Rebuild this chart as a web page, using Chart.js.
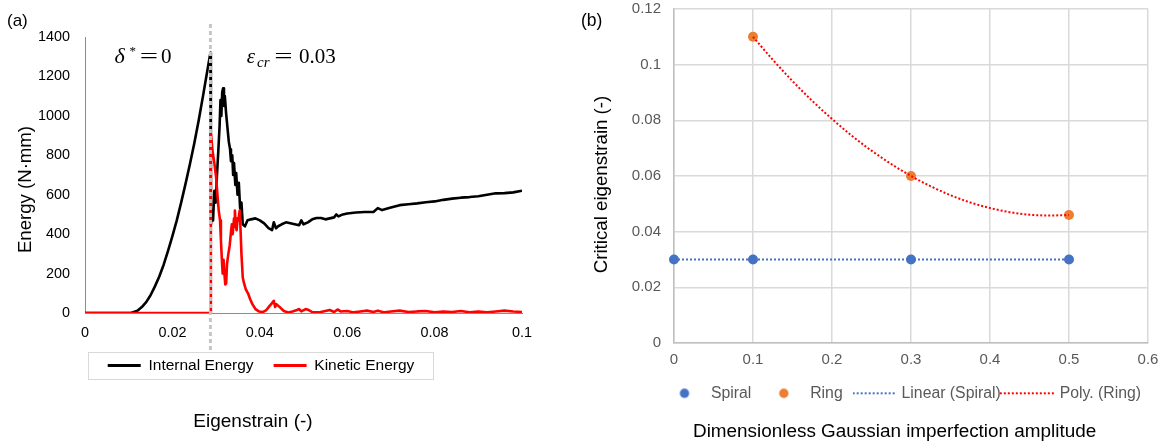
<!DOCTYPE html>
<html><head><meta charset="utf-8">
<script src="https://cdn.jsdelivr.net/npm/chart.js@4.4.1/dist/chart.umd.min.js"></script>
<style>
html,body{margin:0;padding:0;background:#fff;width:1161px;height:443px;overflow:hidden}
#wa{position:absolute;left:0;top:0;width:581px;height:443px}
#wb{position:absolute;left:567px;top:0;width:594px;height:443px}
</style></head><body>
<div id="wa"><canvas id="ca"></canvas></div>
<div id="wb"><canvas id="cb"></canvas></div>
<script>
// ---------- Panel (a) data ----------
const internalStrain = [0,0.0105,0.012,0.013,0.014,0.015,0.016,0.017,0.018,0.019,0.020,0.021,0.022,0.023,0.024,0.025,0.026,0.027,0.028,0.0287,
  0.0288,0.0291,0.0293,0.0296,0.0299,0.0302,0.0305,0.0308,0.0310,0.0312,0.0314,0.0316,0.0318,0.0320,0.0323,0.0326,0.0329,0.0332,0.0334,0.0337,0.0339,0.0341,0.0344,0.0346,0.0349,0.0352,0.0355,0.0358,0.0361,0.0366,0.0372,
  0.0380,0.0390,0.0400,0.0410,0.0420,0.0428,0.0432,0.0437,0.0442,0.0450,0.0460,0.0470,0.0480,0.0490,0.0495,0.0500,0.0510,0.0520,0.0530,0.0540,0.0550,0.0560,0.0570,0.0575,0.0580,0.0590,0.0600,0.0620,0.0640,0.0660,0.0670,0.0680,0.0700,0.0720,0.0740,0.0760,0.0780,0.0800,0.0820,0.0840,0.0860,0.0880,0.0900,0.0920,0.0940,0.0960,0.0980,0.1000];
const internalEnergy = [0,0,12,30,55,90,135,185,245,315,390,470,560,655,755,860,975,1100,1230,1320,
  450,520,470,620,560,700,820,950,1080,1000,1120,1140,1050,1100,1010,940,870,830,770,800,700,760,650,710,600,660,530,560,450,440,470,
  475,480,470,455,430,420,460,430,440,450,460,455,450,445,470,450,460,475,482,482,475,480,485,500,490,500,505,510,512,512,532,522,535,547,552,556,562,566,574,580,585,588,592,600,607,608,612,620];
const kineticStrain = [0,0.0287,0.0288,0.0292,0.0296,0.0300,0.0303,0.0306,0.0309,0.0311,0.0313,0.0315,0.0317,0.0319,0.0321,0.0323,0.0325,0.0328,0.0331,0.0334,0.0336,0.0338,0.0341,0.0343,0.0345,0.0347,0.0349,0.0351,0.0354,0.0356,0.0358,0.0361,0.0364,0.0368,0.0373,0.0378,0.0383,0.0390,0.0398,0.0407,0.0415,0.0422,0.0428,0.0432,0.0435,0.0438,0.0443,0.0448,0.0455,0.0465,0.0475,0.0485,0.0490,0.0495,0.0505,0.0512,0.0520,0.0535,0.0550,0.0560,0.0570,0.0578,0.0585,0.0600,0.0615,0.0630,0.0645,0.0660,0.0670,0.0685,0.0700,0.0720,0.0740,0.0760,0.0780,0.0800,0.0820,0.0840,0.0860,0.0880,0.0900,0.0920,0.0940,0.0960,0.0980,0.1000];
const kineticEnergy = [0,0,910,820,760,690,600,520,470,370,280,200,270,200,145,150,250,300,340,410,450,400,480,520,440,420,480,470,520,420,300,180,150,120,100,70,45,20,8,5,15,35,50,62,30,45,35,25,10,3,8,15,20,8,20,15,5,3,10,15,5,18,8,10,3,8,12,5,12,3,8,12,5,8,10,3,8,5,10,4,8,3,8,12,8,5];
const bucklingStrain = 0.0287;
const aXTicks = [0,0.02,0.04,0.06,0.08,0.1];
const aXTickLabels = ['0','0.02','0.04','0.06','0.08','0.1'];
const aYTicks = [0,200,400,600,800,1000,1200,1400];
const aYTickLabels = ['0','200','400','600','800','1000','1200','1400'];

// ---------- Panel (b) data ----------
const amplitudes = [0,0.1,0.3,0.5];
const spiralCritical = [0.03,0.03,0.03,0.03];
const ringAmplitudes = [0.1,0.3,0.5];
const ringCritical = [0.11,0.06,0.046];
const spiralTrendX = [0,0.5];
const spiralTrendY = [0.03,0.03];
const ringTrendX = [0.1,0.125,0.15,0.175,0.2,0.225,0.25,0.275,0.3,0.325,0.35,0.375,0.4,0.425,0.45,0.475,0.5];
const ringTrendY = [0.110,0.1018,0.0941,0.0870,0.0805,0.0745,0.0691,0.0643,0.0600,0.0563,0.0531,0.0505,0.0485,0.0470,0.0461,0.0458,0.0460];
const bXTicks = [0,0.1,0.2,0.3,0.4,0.5,0.6];
const bXTickLabels = ['0','0.1','0.2','0.3','0.4','0.5','0.6'];
const bYTicks = [0,0.02,0.04,0.06,0.08,0.1,0.12];
const bYTickLabels = ['0','0.02','0.04','0.06','0.08','0.1','0.12'];

const FONT = "'Liberation Sans', Arial, sans-serif";
const SERIF = "'Liberation Serif', 'Times New Roman', serif";
const pts = (xs, ys) => xs.map((x, i) => ({x, y: ys[i]}));

function drawText(ctx, txt, x, y, font, color, align, base) {
  ctx.font = font; ctx.fillStyle = color; ctx.textAlign = align || 'left'; ctx.textBaseline = base || 'alphabetic';
  ctx.fillText(txt, x, y);
}
function drawVTitle(ctx, txt, cx, cy, font, color) {
  ctx.save(); ctx.translate(cx, cy); ctx.rotate(-Math.PI / 2);
  drawText(ctx, txt, 0, 0, font, color, 'center', 'middle'); ctx.restore();
}
function drawWideEq(ctx, cx, base) {
  ctx.save(); ctx.translate(cx, base); ctx.scale(1.55, 1);
  drawText(ctx, '=', 0, 0, '21px ' + SERIF, '#000', 'center'); ctx.restore();
}
// legend marker images (panel b)
function circleImg(color, r) {
  const c = document.createElement('canvas'); const s = Math.ceil(2 * r + 2);
  c.width = s; c.height = s; const g = c.getContext('2d');
  g.fillStyle = color; g.beginPath(); g.arc(s / 2, s / 2, r, 0, Math.PI * 2); g.fill(); return c;
}
function dottedImg(color, left, right, dash) {
  const half = Math.max(left, right); const c = document.createElement('canvas');
  c.width = Math.round(2 * half); c.height = 4; const g = c.getContext('2d');
  g.strokeStyle = color; g.lineWidth = 2; g.setLineDash(dash);
  g.beginPath(); g.moveTo(half - left, 2); g.lineTo(half + right, 2); g.stroke(); return c;
}

const panelA = {
  id: 'panelA',
  afterLayout(chart) { const t = chart.titleBlock; if (t) { t.left -= 8; t.right -= 8; } },
  afterDatasetsDraw(chart) {
    const {ctx, chartArea, scales: {x}} = chart;
    const px = x.getPixelForValue(bucklingStrain);
    const hb = chart.legend.legendHitBoxes;
    const boxTop = hb[0].top + hb[0].height / 2 - 13.5;
    ctx.save();
    ctx.strokeStyle = '#c6c6c6'; ctx.lineWidth = 3; ctx.setLineDash([4, 3]);
    ctx.beginPath(); ctx.moveTo(px, chartArea.top - 13); ctx.lineTo(px, boxTop); ctx.stroke();
    ctx.restore();
  },
  afterDraw(chart) {
    const {ctx, chartArea} = chart;
    const hb = chart.legend.legendHitBoxes;
    const l = Math.min(...hb.map(h => h.left)), r = Math.max(...hb.map(h => h.left + h.width));
    const cy = hb[0].top + hb[0].height / 2;
    ctx.save();
    ctx.strokeStyle = '#d9d9d9'; ctx.lineWidth = 1;
    ctx.strokeRect(Math.round(l - 20) + 0.5, Math.round(cy - 13.5) + 0.5, Math.round(r - l + 38), 27);
    drawVTitle(ctx, 'Energy (N·mm)', chartArea.left - 59, (chartArea.top + chartArea.bottom) / 2 + 14.5, '18.6px ' + FONT, '#000');
    drawText(ctx, '(a)', 7, 21, '17px ' + FONT, '#000', 'left', 'middle');
    const L = chartArea.left, B = chartArea.top + 25.5;
    drawText(ctx, 'δ', L + 29.5, B, 'italic 22px ' + SERIF, '#000');
    drawText(ctx, '*', L + 44.5, B - 8, '13px ' + SERIF, '#000');
    drawWideEq(ctx, L + 64, B);
    drawText(ctx, '0', L + 76, B, '21px ' + SERIF, '#000');
    drawText(ctx, 'ε', L + 161.7, B, 'italic 21px ' + SERIF, '#000');
    drawText(ctx, 'cr', L + 172, B + 4, 'italic 15px ' + SERIF, '#000');
    drawWideEq(ctx, L + 198.5, B);
    drawText(ctx, '0.03', L + 214, B, '21px ' + SERIF, '#000');
    ctx.restore();
  }
};

const panelB = {
  id: 'panelB',
  afterLayout(chart) {
    const t = chart.titleBlock; if (t) { t.left += 37.1; t.right += 37.1; }
    const lg = chart.legend; if (lg) { lg.left += 46; lg.right += 46; }
  },
  afterDraw(chart) {
    const {ctx, chartArea} = chart;
    ctx.save();
    drawVTitle(ctx, 'Critical eigenstrain (-)', chartArea.left - 72, (chartArea.top + chartArea.bottom) / 2 + 8.5, '18.7px ' + FONT, '#000');
    drawText(ctx, '(b)', 14, 21, '17.5px ' + FONT, '#000', 'left', 'middle');
    ctx.restore();
  }
};

new Chart(document.getElementById('ca'), {
  type: 'scatter',
  data: { datasets: [
    {label: 'Internal Energy', data: pts(internalStrain, internalEnergy), showLine: true, borderColor: '#000', backgroundColor: '#000', borderWidth: 2.6, pointRadius: 0, pointHoverRadius: 0, borderJoinStyle: 'round', order: 1},
    {label: 'Kinetic Energy', data: pts(kineticStrain, kineticEnergy), showLine: true, borderColor: '#ff0000', backgroundColor: '#ff0000', borderWidth: 2.6, pointRadius: 0, pointHoverRadius: 0, borderJoinStyle: 'round', order: 0}
  ]},
  options: {
    responsive: true, maintainAspectRatio: false, animation: false,
    layout: {padding: {left: 0, right: 59, top: 37, bottom: 0}},
    plugins: {
      tooltip: {enabled: false},
      legend: {position: 'bottom', labels: {
        usePointStyle: true, pointStyleWidth: 33, padding: 20, color: '#000', font: {family: FONT, size: 15.5},
        generateLabels: chart => chart.data.datasets.map((ds, i) => ({
          text: ds.label, datasetIndex: i, hidden: false, fontColor: '#000', pointStyle: 'line', rotation: 0,
          fillStyle: ds.borderColor, strokeStyle: ds.borderColor, lineWidth: 3, lineDash: []}))
      }},
      title: {display: true, position: 'bottom', text: 'Eigenstrain (-)', color: '#000', font: {family: FONT, size: 19, weight: 'normal'}, padding: {top: 27.35, bottom: 9.6}}
    },
    scales: {
      x: {type: 'linear', min: 0, max: 0.1,
        grid: {display: false, drawTicks: false}, border: {display: true, color: '#8c8c8c', width: 1},
        afterBuildTicks: s => { s.ticks = aXTicks.map(v => ({value: v})); },
        afterFit: s => { s.height = 24.75; },
        ticks: {autoSkip: false, maxRotation: 0, padding: 11, color: '#000', font: {family: FONT, size: 14.4}, callback: (v, i) => aXTickLabels[i]}},
      y: {type: 'linear', min: 0, max: 1400,
        grid: {display: false, drawTicks: false}, border: {display: true, color: '#8c8c8c', width: 1},
        afterBuildTicks: s => { s.ticks = aYTicks.map(v => ({value: v})); },
        afterFit: s => { s.width = 85; },
        ticks: {autoSkip: false, padding: 15, color: '#000', font: {family: FONT, size: 14.4}, callback: (v, i) => aYTickLabels[i]}}
    }
  },
  plugins: [panelA]
});

const legendMarksB = [
  circleImg('#4472C4', 4.7),
  circleImg('#ED7D31', 4.7),
  dottedImg('#4472C4', 22.5, 21.5, [2, 2]),
  dottedImg('#ff0000', 33.5, 21.5, [2, 2])
];

new Chart(document.getElementById('cb'), {
  type: 'scatter',
  data: { datasets: [
    {label: 'Spiral', data: pts(amplitudes, spiralCritical), backgroundColor: '#4472C4', borderColor: '#4472C4', pointRadius: 5, pointHoverRadius: 5, pointBorderWidth: 0, clip: false, order: 1},
    {label: 'Ring', data: pts(ringAmplitudes, ringCritical), backgroundColor: '#ED7D31', borderColor: '#ED7D31', pointRadius: 5, pointHoverRadius: 5, pointBorderWidth: 0, clip: false, order: 1},
    {label: 'Linear (Spiral)', data: pts(spiralTrendX, spiralTrendY), showLine: true, borderColor: '#4472C4', backgroundColor: '#4472C4', borderWidth: 2, borderDash: [2, 2], pointRadius: 0, pointHoverRadius: 0, order: 0},
    {label: 'Poly. (Ring)', data: pts(ringTrendX, ringTrendY), showLine: true, borderColor: '#ff0000', backgroundColor: '#ff0000', borderWidth: 2, borderDash: [2, 2], cubicInterpolationMode: 'monotone', pointRadius: 0, pointHoverRadius: 0, order: 0}
  ]},
  options: {
    responsive: true, maintainAspectRatio: false, animation: false,
    layout: {padding: {left: 0, right: 13, top: 8.6, bottom: 0}},
    plugins: {
      tooltip: {enabled: false},
      legend: {position: 'bottom', labels: {
        usePointStyle: true, pointStyleWidth: 37, boxHeight: 6.4, padding: 14, color: '#595959', font: {family: FONT, size: 15.8},
        generateLabels: chart => chart.data.datasets.map((ds, i) => ({
          text: ds.label, datasetIndex: i, hidden: false, fontColor: '#595959', rotation: 0,
          pointStyle: legendMarksB[i], fillStyle: ds.borderColor, strokeStyle: ds.borderColor, lineWidth: 0, lineDash: []}))
      }},
      title: {display: true, position: 'bottom', text: 'Dimensionless Gaussian imperfection amplitude', color: '#000', font: {family: FONT, size: 18.9, weight: 'normal'}, padding: {top: 8.96, bottom: 0.16}}
    },
    scales: {
      x: {type: 'linear', min: 0, max: 0.6,
        grid: {display: true, color: '#d9d9d9', lineWidth: 1.5, drawTicks: true, tickLength: 8, tickColor: 'rgba(0,0,0,0)'}, border: {display: true, color: '#bfbfbf', width: 1.5},
        afterBuildTicks: s => { s.ticks = bXTicks.map(v => ({value: v})); },
        afterFit: s => { s.height = 28.4; },
        ticks: {autoSkip: false, maxRotation: 0, padding: 0, color: '#595959', font: {family: FONT, size: 15}, callback: (v, i) => bXTickLabels[i]}},
      y: {type: 'linear', min: 0, max: 0.12,
        grid: {display: true, color: '#d9d9d9', lineWidth: 1.5, drawTicks: true, tickLength: 13, tickColor: 'rgba(0,0,0,0)'}, border: {display: true, color: '#bfbfbf', width: 1.5},
        afterBuildTicks: s => { s.ticks = bYTicks.map(v => ({value: v})); },
        afterFit: s => { s.width = 107; },
        ticks: {autoSkip: false, padding: 0, color: '#595959', font: {family: FONT, size: 15}, callback: (v, i) => bYTickLabels[i]}}
    }
  },
  plugins: [panelB]
});
</script>
</body></html>
